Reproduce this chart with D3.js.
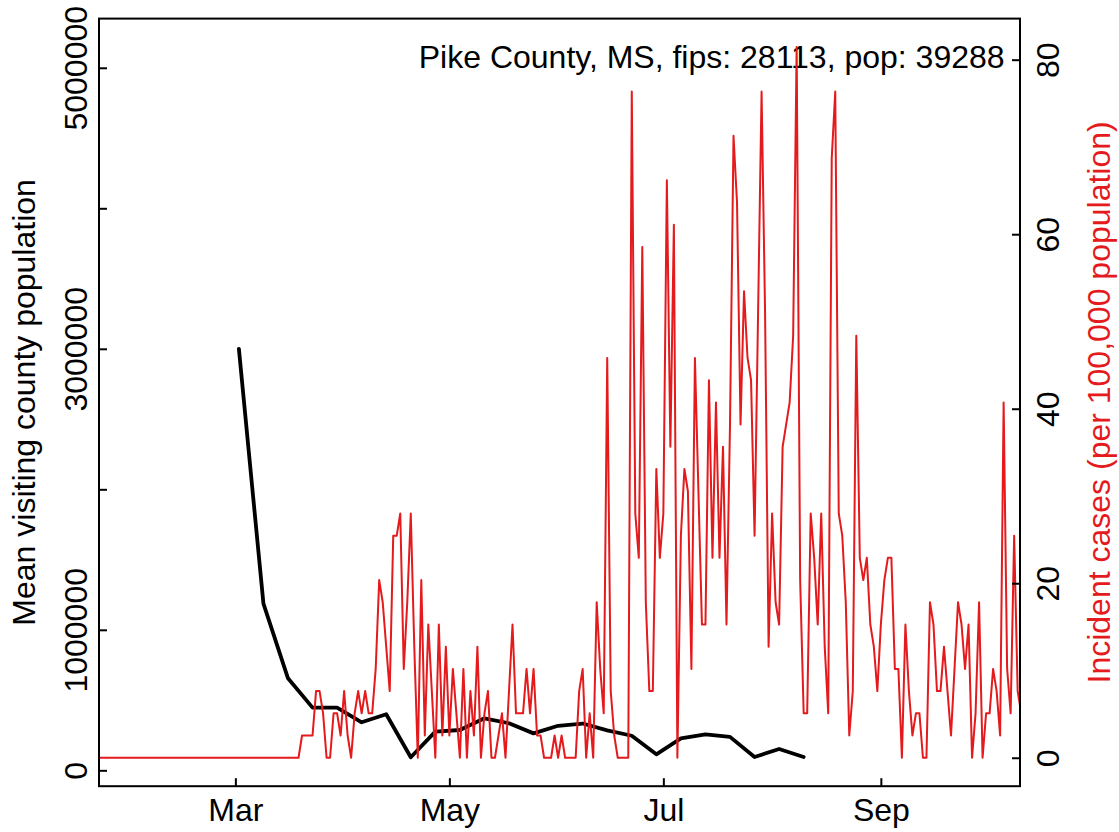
<!DOCTYPE html>
<html><head><meta charset="utf-8">
<script src="https://cdn.jsdelivr.net/npm/d3@7"></script>
<style>
body{margin:0;background:#fff}
svg{display:block}
text{font-family:"Liberation Sans",Arial,Helvetica,sans-serif}
</style>
</head><body>
<svg id="chart" width="1119" height="832"></svg>
<script>
// ---------------- data ----------------
const titleText = "Pike County, MS, fips: 28113, pop: 39288";
const leftTitle = "Mean visiting county population";
const rightTitle = "Incident cases (per 100,000 population)";

const xTickDates = ["2020-03-01", "2020-05-01", "2020-07-01", "2020-09-01"];
const xTickLabels = ["Mar", "May", "Jul", "Sep"];

const leftTicks = [0, 1000000, 2000000, 3000000, 4000000, 5000000];
const leftTickLabels = ["0", "1000000", "", "3000000", "", "5000000"];
const rightTicks = [0, 20, 40, 60, 80];

// weekly mean visiting county population, starting 2020-03-02
const mobilityStart = "2020-03-02";
const mobilityValues = [3000000, 1186000, 655000, 446000, 446000, 342000, 399000, 93000,
  275000, 287000, 370000, 335000, 263000, 317000, 333000, 284000, 246000, 114000,
  227000, 256000, 238000, 95000, 152000, 95000];

// daily incident cases per 100,000, starting 2020-01-22
const incidenceStart = "2020-01-22";
const incidenceValues = [
  0,0,0,0,0,0,0,0,0,0, 0,0,0,0,0,0,0,0,0,0, 0,0,0,0,0,0,0,0,0,0,
  0,0,0,0,0,0,0,0,0,0, 0,0,0,0,0,0,0,0,0,0, 0,0,0,0,0,0,0,
  // Mar 19 onward
  0, 2.55, 2.55, 2.55, 2.55, 7.64, 7.64, 5.09, 0, 0,
  5.09, 5.09, 2.55, 7.64, 2.55, 0, 5.09, 7.64, 5.09, 7.64,
  5.09, 5.09, 10.18, 20.36, 17.82, 12.73, 7.64, 25.45, 25.45, 28.0,
  10.18, 17.82, 28.0, 12.73, 0, 20.36, 2.55, 15.27, 7.64, 0,
  15.27, 2.55, 12.73, 2.55, 10.18, 5.09, 0, 10.18, 0, 7.64,
  2.55, 12.73, 0, 5.09, 7.64, 0, 0, 2.55, 5.09, 0,
  7.64, 15.27, 5.09, 5.09, 5.09, 10.18, 5.09, 10.18, 2.55, 2.55,
  0, 0, 0, 2.55, 0, 2.55, 0, 0, 0, 0,
  7.64, 10.18, 0, 5.09, 0, 17.82, 10.18, 5.09, 45.82, 7.64,
  2.55, 0, 0, 0, 0, 76.36, 28.0, 22.91, 58.54, 17.82,
  7.64, 7.64, 33.09, 22.91, 28.0, 66.18, 35.63, 61.09, 0, 25.45,
  33.09, 30.54, 10.18, 45.82, 30.54, 15.27, 15.27, 43.27, 22.91, 40.72,
  22.91, 35.63, 15.27, 38.18, 71.27, 63.63, 38.18, 53.45, 45.82, 43.27,
  25.45, 50.91, 76.36, 50.91, 12.73, 28.0, 17.82, 15.27, 35.63, 38.18,
  40.72, 48.36, 81.45, 20.36, 5.09, 5.09, 28.0, 22.91, 15.27, 28.0,
  12.73, 5.09, 68.72, 76.36, 28.0, 25.45, 17.82, 2.55, 7.64, 48.36,
  22.91, 20.36, 22.91, 15.27, 12.73, 7.64, 15.27, 20.36, 22.91, 22.91,
  10.18, 10.18, 0, 15.27, 7.64, 2.55, 5.09, 5.09, 0, 0,
  17.82, 15.27, 7.64, 7.64, 12.73, 7.64, 2.55, 10.18, 17.82, 15.27,
  10.18, 15.27, 0, 5.09, 17.82, 0, 5.09, 5.09, 10.18, 7.64,
  2.55, 40.72, 10.18, 5.09, 25.45, 7.64, 5.09
];

// ---------------- layout ----------------
const W = 1119, H = 832;
const box = {left: 99, right: 1020, top: 18.6, bottom: 786.2};
const FONT = 32;
const RED = "#e41a1c";

const parse = d3.utcParse("%Y-%m-%d");
const mobStart = parse(mobilityStart);
const incStart = parse(incidenceStart);
const mobility = mobilityValues.map((v, i) => ({date: d3.utcDay.offset(mobStart, 7 * i), value: v}));
const incidence = incidenceValues.map((v, i) => ({date: d3.utcDay.offset(incStart, i), value: v}));

const x = d3.scaleUtc()
  .domain([new Date(Date.UTC(2020, 0, 22, 3)), new Date(Date.UTC(2020, 9, 10, 16))])
  .range([box.left, box.right]);
const yLeft = d3.scaleLinear().domain([-113000, 5350000]).range([box.bottom, box.top]);
const yRight = d3.scaleLinear().domain([-3.26, 84.71]).range([box.bottom, box.top]);

const svg = d3.select("#chart");
svg.append("rect").attr("width", W).attr("height", H).attr("fill", "#fff");

svg.append("defs").append("clipPath").attr("id", "plotclip")
  .append("rect")
  .attr("x", box.left).attr("y", box.top)
  .attr("width", box.right - box.left).attr("height", box.bottom - box.top);

// black mobility line
svg.append("path")
  .datum(mobility)
  .attr("clip-path", "url(#plotclip)")
  .attr("fill", "none")
  .attr("stroke", "#000")
  .attr("stroke-width", 3.8)
  .attr("stroke-linejoin", "round")
  .attr("stroke-linecap", "round")
  .attr("d", d3.line().x(d => x(d.date)).y(d => yLeft(d.value)));

// title inside plot (top right)
svg.append("text")
  .attr("x", 1004.6).attr("y", 68)
  .attr("text-anchor", "end")
  .attr("font-size", FONT)
  .attr("fill", "#000")
  .text(titleText);

// red incidence line
svg.append("path")
  .datum(incidence)
  .attr("clip-path", "url(#plotclip)")
  .attr("fill", "none")
  .attr("stroke", RED)
  .attr("stroke-width", 2)
  .attr("stroke-linejoin", "round")
  .attr("d", d3.line().x(d => x(d.date)).y(d => yRight(d.value)));

// axes
function styleAxis(g) {
  g.attr("font-size", FONT).attr("font-family", null);
  g.select(".domain").remove();
  g.selectAll(".tick line").attr("stroke", "#000").attr("stroke-width", 2);
  g.selectAll(".tick text").attr("fill", "#000");
}

const xAxis = d3.axisBottom(x)
  .tickValues(xTickDates.map(parse))
  .tickSize(-8)
  .tickFormat((d, i) => xTickLabels[i]);
svg.append("g")
  .attr("transform", `translate(0,${box.bottom})`)
  .call(xAxis)
  .call(styleAxis)
  .call(g => g.selectAll(".tick text").attr("y", 821.5 - box.bottom).attr("dy", null));

const leftAxis = d3.axisLeft(yLeft)
  .tickValues(leftTicks)
  .tickSize(-8)
  .tickFormat((d, i) => leftTickLabels[i]);
svg.append("g")
  .attr("transform", `translate(${box.left},0)`)
  .call(leftAxis)
  .call(styleAxis)
  .call(g => g.selectAll(".tick text")
    .attr("x", null).attr("dy", null).attr("y", null)
    .attr("text-anchor", "middle")
    .attr("transform", "translate(-12.5,0) rotate(-90)"));

const rightAxis = d3.axisRight(yRight)
  .tickValues(rightTicks)
  .tickSize(-8)
  .tickFormat(d3.format("d"));
svg.append("g")
  .attr("transform", `translate(${box.right},0)`)
  .call(rightAxis)
  .call(styleAxis)
  .call(g => g.selectAll(".tick text")
    .attr("x", null).attr("dy", null).attr("y", null)
    .attr("text-anchor", "middle")
    .attr("transform", "translate(39,0) rotate(-90)"));

// box
svg.append("rect")
  .attr("x", box.left).attr("y", box.top)
  .attr("width", box.right - box.left).attr("height", box.bottom - box.top)
  .attr("fill", "none").attr("stroke", "#000").attr("stroke-width", 2);

// axis titles
const midY = (box.top + box.bottom) / 2;
svg.append("text")
  .attr("transform", `translate(35,${midY}) rotate(-90)`)
  .attr("text-anchor", "middle")
  .attr("font-size", FONT)
  .attr("fill", "#000")
  .text(leftTitle);
svg.append("text")
  .attr("transform", `translate(1109.5,${midY}) rotate(-90)`)
  .attr("text-anchor", "middle")
  .attr("font-size", FONT)
  .attr("fill", RED)
  .text(rightTitle);
</script>
</body></html>
